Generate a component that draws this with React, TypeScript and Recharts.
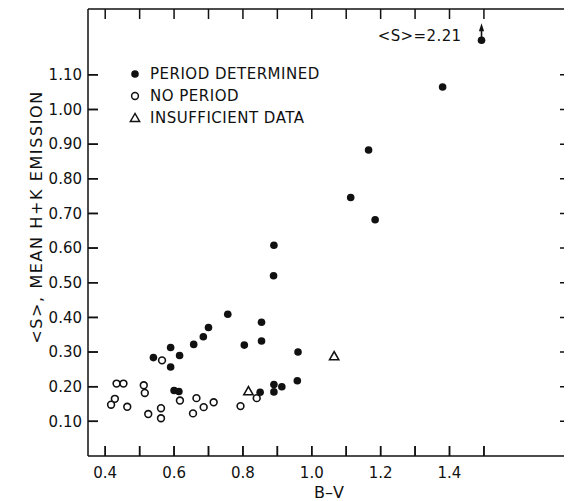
import { ScatterChart, Scatter, XAxis, YAxis, ReferenceLine } from "recharts"

// B-V colour index and <S> for each group of stars
const periodBV = [
  0.54, 0.59, 0.616, 0.59, 0.657, 0.685, 0.7, 0.756, 0.804, 0.854, 0.854, 0.96,
  0.6, 0.614, 0.85, 0.89, 0.89, 0.913, 0.958, 0.89, 0.889, 1.113, 1.165, 1.184, 1.38,
]
const periodS = [
  0.284, 0.313, 0.29, 0.257, 0.322, 0.344, 0.371, 0.409, 0.32, 0.386, 0.332, 0.3,
  0.189, 0.186, 0.184, 0.206, 0.185, 0.2, 0.217, 0.608, 0.52, 0.746, 0.883, 0.682, 1.065,
]
const noPeriodBV = [
  0.433, 0.453, 0.428, 0.417, 0.464, 0.512, 0.515, 0.565, 0.525, 0.562, 0.562, 0.617,
  0.665, 0.655, 0.686, 0.715, 0.793, 0.84,
]
const noPeriodS = [
  0.209, 0.209, 0.165, 0.148, 0.142, 0.204, 0.182, 0.276, 0.121, 0.138, 0.109, 0.16,
  0.167, 0.123, 0.141, 0.155, 0.144, 0.167,
]
const insufficientBV = [0.816, 1.065]
const insufficientS = [0.187, 0.288]
// star off the top of the scale, drawn at the edge with an arrow
const offScaleBV = [1.493]
const offScaleS = [1.2]
const offScaleTrue = ["2.21"]

const xDomain = [0.35, 1.75]
const yDomain = [0, 1.29]
const xTicks = [0.4, 0.5, 0.6, 0.7, 0.8, 0.9, 1.0, 1.1, 1.2, 1.3, 1.4, 1.5]
const xLabels = ["0.4", "0.6", "0.8", "1.0", "1.2", "1.4"]
const yTicks = [0.1, 0.2, 0.3, 0.4, 0.5, 0.6, 0.7, 0.8, 0.9, 1.0, 1.1]
const legendLabels = ["PERIOD DETERMINED", "NO PERIOD", "INSUFFICIENT DATA"]

const zip = (xs: number[], ys: number[]) => xs.map((x, i) => ({ x, y: ys[i] }))
const periodData = zip(periodBV, periodS)
const noPeriodData = zip(noPeriodBV, noPeriodS)
const insufficientData = zip(insufficientBV, insufficientS)
const offScaleData = offScaleBV.map((x, i) => ({ x, y: offScaleS[i], label: offScaleTrue[i] }))

const FONT = "'DejaVu Sans', sans-serif"
const INK = "#111"
const TICK = 10
const LW = 1.5
const tickStyle = { fontFamily: FONT, fontSize: 15, fill: INK }

const FilledDot = (p: any) => <circle cx={p.cx} cy={p.cy} r={3.8} fill={INK} />
const OpenDot = (p: any) => (
  <circle cx={p.cx} cy={p.cy} r={3.4} fill="#fff" stroke={INK} strokeWidth={1.6} />
)
const Triangle = (p: any) => (
  <polygon
    points={`${p.cx},${p.cy - 4.5} ${p.cx - 4.6},${p.cy + 3.5} ${p.cx + 4.6},${p.cy + 3.5}`}
    fill="#fff"
    stroke={INK}
    strokeWidth={1.6}
  />
)
const ArrowDot = (p: any) => (
  <g>
    <circle cx={p.cx} cy={p.cy} r={3.8} fill={INK} />
    <line x1={p.cx} y1={p.cy} x2={p.cx} y2={p.cy - 10} stroke={INK} strokeWidth={1.6} />
    <polygon
      points={`${p.cx},${p.cy - 17} ${p.cx - 2.6},${p.cy - 9} ${p.cx + 2.6},${p.cy - 9}`}
      fill={INK}
    />
    <text
      x={p.cx - 20}
      y={p.cy - 4}
      textAnchor="end"
      dominantBaseline="central"
      {...tickStyle}
      letterSpacing={0.4}
    >
      {`<S>=${p.payload.label}`}
    </text>
  </g>
)

// one reference line per tick value, drawn only as short inward marks at both ends
const XTickPair = (p: any) => {
  const top = Math.min(p.y1, p.y2)
  const bot = Math.max(p.y1, p.y2)
  return (
    <path
      d={`M${p.x1},${bot} V${bot - TICK} M${p.x1},${top} V${top + TICK}`}
      stroke={INK}
      strokeWidth={LW}
      fill="none"
    />
  )
}
const YTickPair = (p: any) => {
  const left = Math.min(p.x1, p.x2)
  const right = Math.max(p.x1, p.x2)
  return (
    <path
      d={`M${left},${p.y1} H${left + TICK} M${right},${p.y1} H${right - TICK}`}
      stroke={INK}
      strokeWidth={LW}
      fill="none"
    />
  )
}

const legendIcons = [
  <circle cx={6} cy={6} r={3.8} fill={INK} />,
  <circle cx={6} cy={6} r={3.4} fill="#fff" stroke={INK} strokeWidth={1.5} />,
  <polygon points="6,1.5 1.4,9.5 10.6,9.5" fill="#fff" stroke={INK} strokeWidth={1.5} />,
]

const overlayText = { position: "absolute" as const, fontFamily: FONT, color: INK, whiteSpace: "nowrap" as const }

export default function App() {
  return (
    <div style={{ position: "relative", width: 564, height: 493, background: "#fff" }}>
      <ScatterChart width={564} height={493} margin={{ top: 1, right: 2, bottom: 0, left: 0 }}>
        <XAxis
          type="number"
          dataKey="x"
          domain={xDomain}
          ticks={xTicks}
          interval={0}
          height={45}
          tickSize={-TICK}
          tickMargin={21}
          tick={tickStyle}
          tickFormatter={(v: number) => (xLabels.includes(v.toFixed(1)) ? v.toFixed(1) : "")}
          axisLine={{ stroke: INK, strokeWidth: LW }}
          tickLine={{ stroke: INK, strokeWidth: LW }}
        />
        <YAxis
          type="number"
          dataKey="y"
          domain={yDomain}
          ticks={yTicks}
          interval={0}
          width={80}
          tickSize={-TICK}
          tickMargin={16}
          tick={tickStyle}
          tickFormatter={(v: number) => v.toFixed(2)}
          axisLine={{ stroke: INK, strokeWidth: LW }}
          tickLine={{ stroke: INK, strokeWidth: LW }}
        />
        {/* top and right sides of the frame */}
        <ReferenceLine y={yDomain[1]} stroke={INK} strokeWidth={LW} />
        <ReferenceLine x={xDomain[1]} stroke={INK} strokeWidth={LW} />
        {xTicks.map((v) => (
          <ReferenceLine key={`xt${v}`} x={v} shape={XTickPair} />
        ))}
        {yTicks.map((v) => (
          <ReferenceLine key={`yt${v}`} y={v} shape={YTickPair} />
        ))}
        <Scatter name="NO PERIOD" data={noPeriodData} shape={OpenDot} isAnimationActive={false} />
        <Scatter
          name="INSUFFICIENT DATA"
          data={insufficientData}
          shape={Triangle}
          isAnimationActive={false}
        />
        <Scatter
          name="PERIOD DETERMINED"
          data={periodData}
          shape={FilledDot}
          isAnimationActive={false}
        />
        <Scatter name="OFF SCALE" data={offScaleData} shape={ArrowDot} isAnimationActive={false} />
      </ScatterChart>

      {/* legend */}
      <div style={{ ...overlayText, top: 55, left: 121, fontSize: 15 }}>
        {legendLabels.map((name, i) => (
          <div key={name} style={{ display: "flex", alignItems: "center", height: 22 }}>
            <svg width={12} height={12} style={{ marginRight: 9 }}>
              {legendIcons[i]}
            </svg>
            <span style={{ letterSpacing: 0.5 }}>{name}</span>
          </div>
        ))}
      </div>

      {/* axis titles */}
      <div
        style={{
          ...overlayText,
          left: 29,
          top: 209,
          fontSize: 16,
          letterSpacing: 1.6,
          lineHeight: "18px",
          transform: "translate(-50%, -50%) rotate(-90deg)",
        }}
      >
        {"<S>, MEAN H+K EMISSION"}
      </div>
      <div
        style={{
          ...overlayText,
          left: 321,
          top: 485,
          fontSize: 16,
          lineHeight: "18px",
          transform: "translate(-50%, -50%)",
        }}
      >
        B–V
      </div>
    </div>
  )
}
